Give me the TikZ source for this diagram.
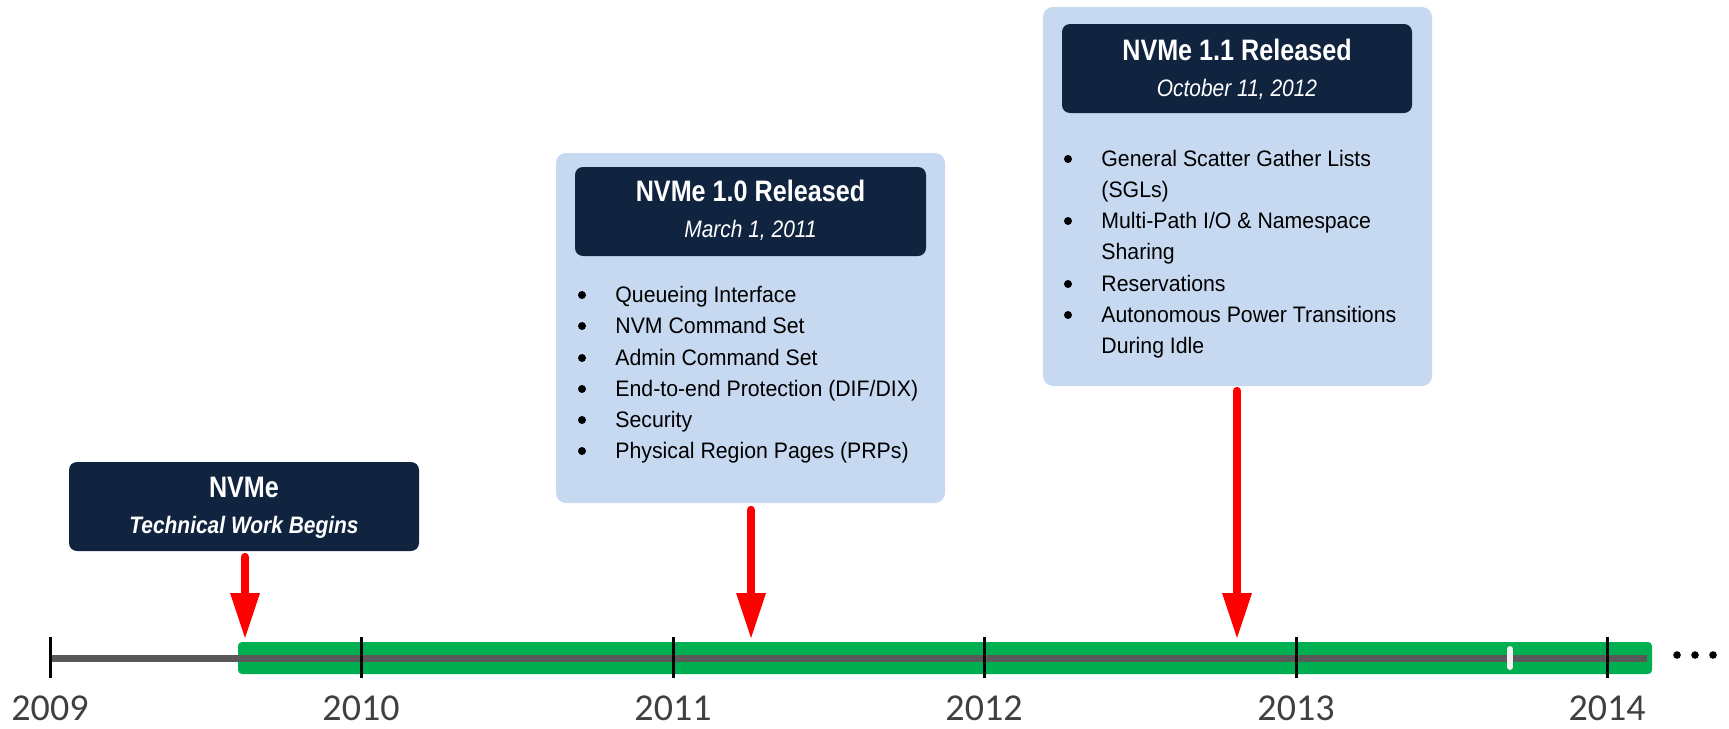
\documentclass[tikz,border=0pt]{standalone}
\usepackage{fontspec}
\newfontfamily\ftitle[FakeStretch=0.85]{Liberation Sans}
\newfontfamily\fsubt[FakeStretch=0.88]{Liberation Sans}
\newfontfamily\fbody[FakeStretch=0.95]{Liberation Sans}
\newfontfamily\fyear{Carlito}
\definecolor{navy}{HTML}{10233F}
\definecolor{lightbox}{HTML}{C6D9F0}
\definecolor{tlgreen}{HTML}{00B050}
\definecolor{tlgray}{HTML}{595959}
\definecolor{yeargray}{HTML}{404040}
\definecolor{marker}{HTML}{F2F2F2}
\tikzset{
  darkbox/.style={fill=navy, draw=none, rounded corners=4pt, inner sep=0pt},
  lbox/.style={fill=lightbox, draw=none, rounded corners=5pt, inner sep=0pt},
  ttl/.style={anchor=base, text=white, inner sep=0pt, font=\ftitle\bfseries\fontsize{14.8pt}{16pt}\selectfont},
  subt/.style={anchor=base, text=white, inner sep=0pt, font=\fsubt\itshape\fontsize{11.9pt}{13pt}\selectfont},
  subtb/.style={anchor=base, text=white, inner sep=0pt, font=\fsubt\bfseries\itshape\fontsize{11.9pt}{13pt}\selectfont},
  item/.style={anchor=base west, text=black, inner sep=0pt, font=\fbody\fontsize{11.2pt}{13pt}\selectfont},
  redshaft/.style={draw=red, line width=4.2pt, line cap=round},
  redhead/.style={fill=red, draw=none},
  tick/.style={draw=black, line width=1.5pt},
  year/.style={anchor=base, text=yeargray, inner sep=0pt, font=\fyear\fontsize{19pt}{22pt}\selectfont},
}
\begin{document}
\begin{tikzpicture}[x=0.5pt,y=-0.5pt]
\useasboundingbox (0,0) rectangle (1729,728);

% ---- timeline ----
\fill[tlgreen, rounded corners=2pt] (238,642) rectangle (1652,674);
\draw[tlgray, line width=3.5pt] (50,658.5) -- (1647,658.5);
\draw[marker, line width=3pt, line cap=round] (1510,649) -- (1510,667);
\foreach \x/\y in {50/2009,361/2010,673/2011,984/2012,1296/2013,1607/2014}{
  \draw[tick] (\x,637) -- (\x,678);
  \node[year] (y\y) at (\x,720) {\y};
}
\foreach \x in {1677,1695,1713}{\fill[black] (\x,655) circle (1.9pt);}

% ---- box 1 ----
\node[darkbox, minimum width=175pt, minimum height=44.5pt] (b1) at (244,506.5) {};
\node[ttl] (b1t) at (244,497) {NVMe};
\node[subtb] (b1s) at (244,533) {Technical Work Begins};

% ---- box 2 ----
\node[lbox, minimum width=194.5pt, minimum height=175pt] (l2) at (750.5,328) {};
\node[darkbox, minimum width=175.5pt, minimum height=44.5pt] (b2) at (750.5,211.5) {};
\node[ttl] (b2t) at (750.5,201) {NVMe 1.0 Released};
\node[subt] (b2s) at (750.5,237) {March 1, 2011};
\foreach \yy/\txt [count=\i] in {302/{Queueing Interface},333/{NVM Command Set},365/{Admin Command Set},396/{End-to-end Protection (DIF/DIX)},427/{Security},458/{Physical Region Pages (PRPs)}}{
  \fill[black] (582,\yy-7) circle (2pt);
  \node[item] (b2i\i) at (615,\yy) {\txt};
}

% ---- box 3 ----
\node[lbox, minimum width=194.5pt, minimum height=189.5pt] (l3) at (1237.5,196.5) {};
\node[darkbox, minimum width=175pt, minimum height=44.5pt] (b3) at (1237,68.5) {};
\node[ttl] (b3t) at (1237,60) {NVMe 1.1 Released};
\node[subt] (b3s) at (1237,96) {October 11, 2012};
\foreach \yy in {166,228,291,322}{\fill[black] (1068,\yy-7) circle (2pt);}
\node[item] (b3i1) at (1101,166) {General Scatter Gather Lists};
\node[item] (b3i2) at (1101,197) {(SGLs)};
\node[item] (b3i3) at (1101,228) {Multi-Path I/O \& Namespace};
\node[item] (b3i4) at (1101,259) {Sharing};
\node[item] (b3i5) at (1101,291) {Reservations};
\node[item] (b3i6) at (1101,322) {Autonomous Power Transitions};
\node[item] (b3i7) at (1101,353) {During Idle};

% ---- arrows ----
\foreach \n/\x/\top in {1/245/557, 2/751/510, 3/1237/391}{
  \coordinate (a\n s) at (\x,\top);
  \coordinate (a\n h) at (\x,596);
  \coordinate (a\n e) at (\x,638);
  \draw[redshaft] (a\n s) -- (a\n h);
  \fill[redhead] (a\n e) -- (\x-15,593) -- (\x+15,593) -- cycle;
}
\end{tikzpicture}
\end{document}
